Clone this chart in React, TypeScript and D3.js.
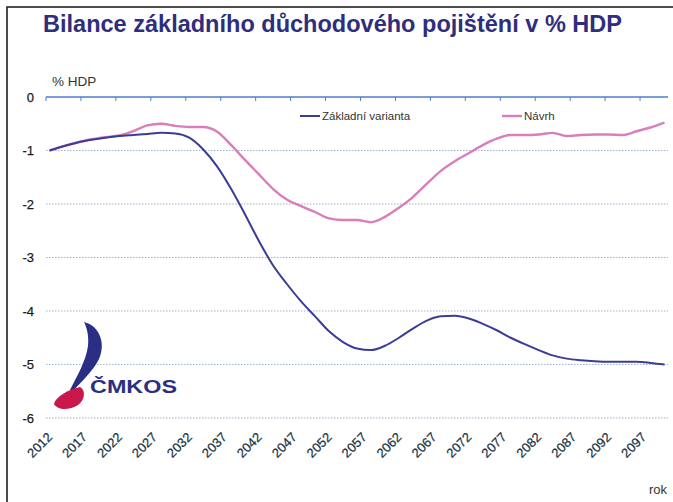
import React from "react";
import * as d3 from "d3";

const title = "Bilance základního důchodového pojištění v % HDP";
const yUnit = "% HDP";
const xUnit = "rok";
const seriesNames = ["Základní varianta", "Návrh"];

const years = [
  2012, 2014, 2016, 2018, 2020, 2022, 2024, 2026, 2028, 2030, 2032, 2034, 2036, 2038, 2040,
  2042, 2044, 2046, 2048, 2050, 2052, 2054, 2056, 2058, 2060, 2062, 2064, 2066, 2068, 2070,
  2072, 2074, 2076, 2078, 2080, 2082, 2084, 2086, 2088, 2090, 2092, 2094, 2096, 2098, 2100,
];

const baseValues = [
  -1.0, -0.92, -0.85, -0.8, -0.76, -0.73, -0.71, -0.69, -0.67, -0.68, -0.76, -0.98, -1.3, -1.72, -2.2,
  -2.7, -3.15, -3.5, -3.82, -4.1, -4.38, -4.58, -4.7, -4.73, -4.65, -4.5, -4.33, -4.18, -4.1, -4.09,
  -4.14, -4.24, -4.36, -4.5, -4.62, -4.73, -4.83, -4.89, -4.92, -4.94, -4.95, -4.95, -4.95, -4.97, -5.0,
];

const proposalValues = [
  -1.0, -0.92, -0.85, -0.79, -0.75, -0.72, -0.64, -0.53, -0.5, -0.54, -0.56, -0.56, -0.65, -0.9, -1.18,
  -1.45, -1.72, -1.92, -2.04, -2.15, -2.27, -2.3, -2.3, -2.34, -2.24, -2.07, -1.87, -1.62, -1.38, -1.2,
  -1.05, -0.9, -0.78, -0.71, -0.71, -0.7, -0.67, -0.73, -0.71, -0.7, -0.7, -0.71, -0.64, -0.57, -0.48,
];

const yTicks = [0, -1, -2, -3, -4, -5, -6];
const xLabelYears = [2012, 2017, 2022, 2027, 2032, 2037, 2042, 2047, 2052, 2057, 2062, 2067, 2072, 2077, 2082, 2087, 2092, 2097];

const FONT = "'Liberation Sans', Arial, sans-serif";

export default function App() {
  const x = d3.scaleLinear().domain([2011.5, 2100.5]).range([46, 668]);
  const y = d3.scaleLinear().domain([0, -6]).range([97, 418]);
  const tickPositions = d3.range(0, 18).map((k) => 2011.5 + 5 * k);

  const line = d3
    .line<[number, number]>()
    .x((d) => x(d[0]))
    .y((d) => y(d[1]))
    .curve(d3.curveMonotoneX);

  const basePts = years.map((yr, i) => [yr, baseValues[i]] as [number, number]);
  const propPts = years.map((yr, i) => [yr, proposalValues[i]] as [number, number]);

  const blue = "#3a3d98";
  const pink = "#d97dbc";

  return (
    <div style={{ position: "fixed", left: 0, top: 0 }}>
      <svg width={673} height={502} style={{ display: "block", background: "#fff" }}>
        <rect x={0} y={0} width={673} height={502} fill="#fff" />
        <rect x={7} y={7} width={700} height={520} fill="none" stroke="#222" strokeWidth={1.6} />
        <text
          x={43}
          y={32}
          fontFamily={FONT}
          fontWeight="bold"
          fontSize={23}
          fill="#2f2d7e"
          textLength={579}
          lengthAdjust="spacingAndGlyphs"
        >
          {title}
        </text>

        {/* gridlines */}
        {yTicks
          .filter((v) => v !== 0)
          .map((v) => (
            <line
              key={"g" + v}
              x1={x(2011.5)}
              x2={x(2100.5)}
              y1={y(v)}
              y2={y(v)}
              stroke="#9fb3cc"
              strokeWidth={1}
              strokeDasharray="1.5 1.5"
            />
          ))}

        {/* zero axis */}
        <line x1={x(2011.5)} x2={x(2100.5)} y1={y(0)} y2={y(0)} stroke="#4b7fd0" strokeWidth={1.3} />
        {tickPositions.map((t) => (
          <line key={"t" + t} x1={x(t)} x2={x(t)} y1={y(0)} y2={y(0) + 4} stroke="#4b7fd0" strokeWidth={1} />
        ))}

        {/* y labels */}
        {yTicks.map((v) => (
          <text
            key={"yl" + v}
            x={34}
            y={y(v) + 4.5}
            textAnchor="end"
            fontFamily={FONT}
            fontSize={13}
            fill="#1a1a1a"
            stroke="#1a1a1a"
            strokeWidth={0.25}
          >
            {v === 0 ? "0" : "-" + Math.abs(v)}
          </text>
        ))}
        <text x={52} y={86} fontFamily={FONT} fontSize={13.5} fill="#333">
          {yUnit}
        </text>

        {/* x labels */}
        {xLabelYears.map((yr) => (
          <text
            key={"xl" + yr}
            transform={`translate(${x(yr) + 3.5},${438}) rotate(-45)`}
            textAnchor="end"
            fontFamily={FONT}
            fontSize={13}
            fill="#1b3545"
            stroke="#1b3545"
            strokeWidth={0.25}
          >
            {yr}
          </text>
        ))}
        <text x={667} y={494} textAnchor="end" fontFamily={FONT} fontSize={13} fill="#333">
          {xUnit}
        </text>

        {/* lines */}
        <path d={line(propPts) || ""} fill="none" stroke={pink} strokeWidth={2.4} strokeLinejoin="round" />
        <path d={line(basePts) || ""} fill="none" stroke={blue} strokeWidth={2} strokeLinejoin="round" />

        {/* legend */}
        <line x1={300} x2={320} y1={116} y2={116} stroke={blue} strokeWidth={2} />
        <text x={322} y={120} fontFamily={FONT} fontSize={11.5} fill="#333">
          {seriesNames[0]}
        </text>
        <line x1={502} x2={522} y1={116} y2={116} stroke={pink} strokeWidth={2.4} />
        <text x={524} y={120} fontFamily={FONT} fontSize={11.5} fill="#333">
          {seriesNames[1]}
        </text>

        {/* logo */}
        <path
          d="M 84 322 C 100 326, 106 344, 99 359 C 93 371, 82 381, 73 391 L 70 390 C 77 376, 86 361, 88 346 C 89 336, 87 328, 84 322 Z"
          fill="#2b2f84"
        />
        <path
          d="M 54 404 C 56 396, 68 390, 80 387 C 86 390, 85 400, 78 405 C 70 410, 58 411, 54 404 Z"
          fill="#c8184c"
        />
        <text
          x={90}
          y={393}
          fontFamily={FONT}
          fontWeight="bold"
          fontSize={19}
          fill="#2b2f84"
          textLength={87}
          lengthAdjust="spacingAndGlyphs"
        >
          ČMKOS
        </text>
      </svg>
    </div>
  );
}
